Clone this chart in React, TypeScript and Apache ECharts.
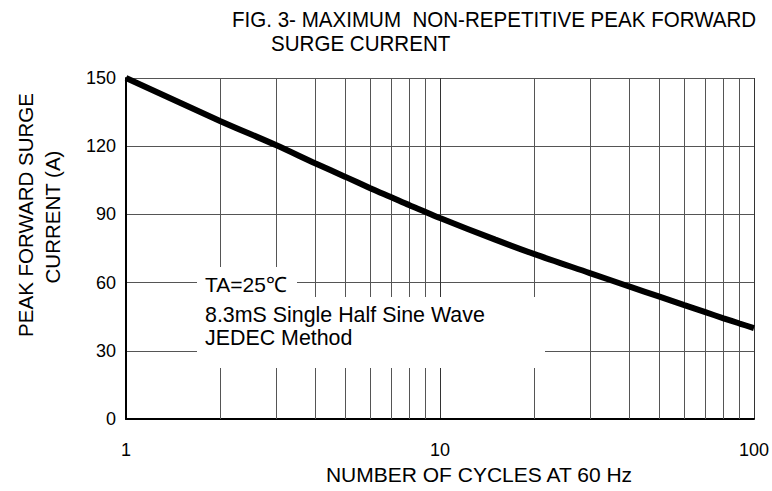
import React, { useEffect, useRef } from "react";
import * as echarts from "echarts";

const cycles = [1, 2, 3, 4, 5, 6, 7, 8, 9, 10, 15, 20, 30, 40, 50, 60, 70, 80, 90, 100];
const surgeCurrent = [150, 131, 120.5, 112.5, 106.5, 101.5, 97.5, 94, 91.1, 88.4, 78.9, 72.5, 64.2, 58.3, 53.8, 50.1, 47, 44.3, 42, 40];
const minorGridX = [2, 3, 4, 5, 6, 7, 8, 9, 20, 30, 40, 50, 60, 70, 80, 90];
const titleLines = ["FIG. 3- MAXIMUM  NON-REPETITIVE PEAK FORWARD", "SURGE CURRENT"];
const yAxisNameLines = ["PEAK FORWARD SURGE", "CURRENT (A)"];
const xAxisName = "NUMBER OF CYCLES AT 60 Hz";
const noteLines = ["TA=25℃", "8.3mS Single Half Sine Wave", "JEDEC Method"];

const FONT = "'Liberation Sans', Arial, sans-serif";

export default function App() {
  const ref = useRef<HTMLDivElement>(null);
  useEffect(() => {
    if (!ref.current) return;
    const chart = echarts.init(ref.current, null, { renderer: "svg" });
    chart.setOption({
      animation: false,
      backgroundColor: "#fff",
      grid: { left: 126, right: 15, top: 78, bottom: 72, containLabel: false },
      xAxis: {
        type: "log",
        logBase: 10,
        min: 1,
        max: 100,
        axisLine: { show: true, onZero: false, lineStyle: { color: "#000", width: 2 } },
        axisTick: { show: false },
        axisLabel: { color: "#000", fontSize: 18, fontFamily: FONT, margin: 22 },
        splitLine: { show: true, lineStyle: { color: "#333", width: 1 } },
      },
      yAxis: {
        type: "value",
        min: 0,
        max: 150,
        interval: 30,
        axisLine: { show: true, lineStyle: { color: "#000", width: 2 } },
        axisTick: { show: false },
        axisLabel: { color: "#000", fontSize: 18, fontFamily: FONT, margin: 10 },
        splitLine: { show: true, lineStyle: { color: "#555", width: 1 } },
      },
      series: [
        {
          type: "line",
          data: cycles.map((c, i) => [c, surgeCurrent[i]]),
          showSymbol: false,
          smooth: 0.3,
          lineStyle: { color: "#000", width: 6 },
          z: 5,
          markLine: {
            silent: true,
            symbol: "none",
            label: { show: false },
            lineStyle: { color: "#555", width: 1, type: "solid" },
            data: minorGridX.map((v) => ({ xAxis: v })),
            z: 1,
          },
        },
      ],
      graphic: [
        { type: "rect", z: 100, shape: { x: 197, y: 267, width: 100, height: 30 }, style: { fill: "#fff" } },
        { type: "rect", z: 100, shape: { x: 197, y: 297, width: 348, height: 71 }, style: { fill: "#fff" } },
        { type: "text", z: 101, x: 205, y: 284, style: { text: noteLines[0], font: `21px ${FONT}`, fill: "#000", textVerticalAlign: "middle" } },
        { type: "text", z: 101, x: 205, y: 315, style: { text: noteLines[1], font: `21.4px ${FONT}`, fill: "#000", textVerticalAlign: "middle" } },
        { type: "text", z: 101, x: 205, y: 338, style: { text: noteLines[2], font: `21.4px ${FONT}`, fill: "#000", textVerticalAlign: "middle" } },
        { type: "text", z: 101, x: 232, y: 20, scaleX: 0.935, style: { text: titleLines[0], font: `22px ${FONT}`, fill: "#000", textVerticalAlign: "middle" } },
        { type: "text", z: 101, x: 271, y: 44, scaleX: 0.935, style: { text: titleLines[1], font: `22px ${FONT}`, fill: "#000", textVerticalAlign: "middle" } },
        { type: "text", z: 101, x: 479, y: 474, style: { text: xAxisName, font: `21px ${FONT}`, fill: "#000", textAlign: "center", textVerticalAlign: "middle" } },
        { type: "text", z: 101, x: 25, y: 215, rotation: Math.PI / 2, style: { text: yAxisNameLines[0], font: `20.5px ${FONT}`, fill: "#000", textAlign: "center", textVerticalAlign: "middle" } },
        { type: "text", z: 101, x: 52, y: 217, rotation: Math.PI / 2, style: { text: yAxisNameLines[1], font: `20.5px ${FONT}`, fill: "#000", textAlign: "center", textVerticalAlign: "middle" } },
      ],
    });
    return () => chart.dispose();
  }, []);
  return <div ref={ref} style={{ position: "absolute", left: 0, top: 0, width: 772, height: 491 }} />;
}
